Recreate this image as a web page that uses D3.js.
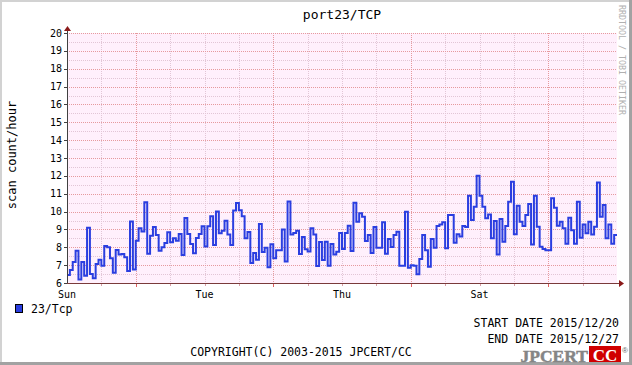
<!DOCTYPE html>
<html><head><meta charset="utf-8">
<script src="https://cdn.jsdelivr.net/npm/d3@7"></script>
<style>
body{margin:0;background:#fff}
svg{display:block}
text{font-family:"DejaVu Sans Mono",monospace}
</style>
</head><body>
<script>
const title = "port23/TCP";
const yLabel = "scan count/hour";
const seriesName = "23/Tcp";
const startDateText = "START DATE 2015/12/20";
const endDateText = "END DATE 2015/12/27";
const copyright = "COPYRIGHT(C) 2003-2015 JPCERT/CC";
const watermark = "RRDTOOL / TOBI OETIKER";
const dayLabels = ["Sun", "Tue", "Thu", "Sat"];
const dayLabelHours = [0, 48, 96, 144];
const majorGridHours = [24, 72, 120, 168];
const yTicks = d3.range(6, 21);
const totalHours = 192;
// hourly scan counts starting 2015/12/20 00:00
const values = [
  6.45, 6.73, 7.18, 7.8, 6.19, 7.18, 6.41, 9.1, 6.5, 6.26,
  7.07, 7.3, 6.97, 8.07, 8.0, 7.38, 6.58, 7.85, 7.59, 7.63,
  7.44, 6.67, 9.44, 6.75, 8.37, 9.07, 8.88, 10.52, 7.64, 8.65,
  9.14, 8.69, 7.81, 8.0, 8.24, 8.84, 8.28, 8.5, 8.37, 8.75,
  7.57, 9.64, 8.75, 8.19, 7.66, 8.52, 8.75, 9.18, 8.04, 9.18,
  9.74, 8.13, 10.0, 8.78, 8.92, 9.48, 8.71, 8.13, 10.06, 10.48,
  10.07, 9.74, 8.5, 8.86, 7.12, 7.68, 7.3, 9.31, 7.74, 7.98,
  6.88, 8.17, 7.38, 7.83, 7.83, 8.99, 7.2, 10.56, 8.71, 8.8,
  8.92, 7.63, 8.58, 7.89, 7.76, 9.07, 8.71, 6.95,
  8.3, 7.29, 8.31, 6.97, 8.18, 7.6, 7.75, 8.8, 7.9, 8.8, 9.2, 7.79,
  10.5, 9.43, 9.9, 9.71, 8.35, 8.69, 7.68, 9.13, 7.98, 7.98,
  9.4, 7.64, 8.46, 8.01, 8.69, 8.87, 6.97, 6.97, 9.99, 6.86,
  7.0, 6.97, 6.49, 7.34, 8.69, 7.83, 6.91, 8.46, 7.98, 9.19,
  9.28, 9.4, 7.94, 9.81, 9.81, 8.26, 8.73, 8.6, 9.19,
  9.13, 10.89, 9.53, 10.27, 12.0, 10.89, 10.27, 9.62, 9.84, 8.5,
  9.47, 7.6, 9.58, 8.31, 9.19, 10.55, 11.67, 8.73, 10.33, 9.43,
  9.19, 9.81, 10.42, 8.16, 10.89, 9.15, 8.03, 7.9,
  7.83, 7.83, 10.74, 10.22, 9.21, 9.43, 9.06, 8.2, 9.66, 8.95,
  8.2, 10.55, 8.54, 9.28, 8.78, 9.43, 8.72, 9.15, 11.63, 9.71,
  10.37, 8.5, 9.28, 8.2, 8.69
];

const W = 632, H = 365;
const M = {left: 67, right: 617, top: 33, bottom: 283};
const svg = d3.select("body").append("svg").attr("width", W).attr("height", H);

// frame
svg.append("rect").attr("width", W).attr("height", H).attr("fill", "#a2a2a2");
svg.append("rect").attr("width", W - 3).attr("height", H - 3).attr("fill", "#d2d2d2");
svg.append("rect").attr("x", 2).attr("y", 2).attr("width", W - 5).attr("height", H - 5).attr("fill", "#ffffff");

const x = d3.scaleLinear().domain([0, totalHours]).range([M.left, M.right]);
const y = d3.scaleLinear().domain([6, 20]).range([M.bottom, M.top]);

// plot background
svg.append("rect").attr("x", M.left).attr("y", M.top)
  .attr("width", M.right - M.left).attr("height", M.bottom - M.top)
  .attr("fill", "#fff0fc");

const grid = svg.append("g").attr("shape-rendering", "crispEdges").attr("stroke-width", 1);
grid.selectAll(".hmin").data(d3.range(6.5, 20, 1)).join("line")
  .attr("x1", M.left).attr("x2", M.right)
  .attr("y1", d => Math.round(y(d)) + 0.5).attr("y2", d => Math.round(y(d)) + 0.5)
  .attr("stroke", "#e2c6d6").attr("stroke-dasharray", "1,1");
grid.selectAll(".vmin").data(d3.range(12, totalHours, 12).filter(h => !majorGridHours.includes(h))).join("line")
  .attr("y1", M.top).attr("y2", M.bottom)
  .attr("x1", d => Math.round(x(d)) + 0.5).attr("x2", d => Math.round(x(d)) + 0.5)
  .attr("stroke", "#e2c6d6").attr("stroke-dasharray", "1,1");
grid.selectAll(".hmaj").data(yTicks.filter(d => d > 6)).join("line")
  .attr("x1", M.left).attr("x2", M.right)
  .attr("y1", d => Math.round(y(d)) + 0.5).attr("y2", d => Math.round(y(d)) + 0.5)
  .attr("stroke", "#e69a9e").attr("stroke-dasharray", "1,1");
grid.selectAll(".vmaj").data(majorGridHours).join("line")
  .attr("y1", M.top).attr("y2", M.bottom)
  .attr("x1", d => Math.round(x(d)) + 0.5).attr("x2", d => Math.round(x(d)) + 0.5)
  .attr("stroke", "#e69a9e").attr("stroke-dasharray", "1,1");

// data line
const pts = values.map((v, i) => [i, v]);
pts.push([values.length, values[values.length - 1]]);
const line = d3.line().x(d => x(d[0])).y(d => y(d[1])).curve(d3.curveStepAfter);
svg.append("path").datum(pts).attr("d", line)
  .attr("fill", "none").attr("stroke", "#2a3ee0").attr("stroke-width", 2)
  .attr("stroke-linejoin", "miter");

// axes
const ax = svg.append("g").attr("shape-rendering", "crispEdges");
ax.append("line").attr("x1", M.left + 0.5).attr("x2", M.left + 0.5)
  .attr("y1", M.bottom + 1).attr("y2", M.top - 4).attr("stroke", "#404040");
ax.append("line").attr("x1", M.left).attr("x2", M.right + 4)
  .attr("y1", M.bottom + 0.5).attr("y2", M.bottom + 0.5).attr("stroke", "#7a3a3a");
svg.append("path").attr("d", `M${M.left - 3},${M.top - 2}L${M.left + 0.5},${M.top - 7}L${M.left + 4},${M.top - 2}Z`)
  .attr("fill", "#8b1a1a");
svg.append("path").attr("d", `M${M.right + 2},${M.bottom - 3}L${M.right + 7},${M.bottom + 0.5}L${M.right + 2},${M.bottom + 4}Z`)
  .attr("fill", "#8b1a1a");
ax.selectAll(".yt").data(yTicks).join("line")
  .attr("x1", M.left - 3).attr("x2", M.left)
  .attr("y1", d => Math.round(y(d)) + 0.5).attr("y2", d => Math.round(y(d)) + 0.5)
  .attr("stroke", "#404040");
ax.selectAll(".xtmin").data(d3.range(12, totalHours, 12).filter(h => !majorGridHours.includes(h))).join("line")
  .attr("x1", d => Math.round(x(d)) + 0.5).attr("x2", d => Math.round(x(d)) + 0.5)
  .attr("y1", M.bottom + 1).attr("y2", M.bottom + 3).attr("stroke", "#d8a0a8");
ax.selectAll(".xtmaj").data(majorGridHours).join("line")
  .attr("x1", d => Math.round(x(d)) + 0.5).attr("x2", d => Math.round(x(d)) + 0.5)
  .attr("y1", M.bottom + 1).attr("y2", M.bottom + 4).attr("stroke", "#e06060");

// tick labels
svg.selectAll(".ylab").data(yTicks).join("text")
  .attr("x", M.left - 5).attr("y", d => y(d)).attr("dy", "0.35em")
  .attr("text-anchor", "end").attr("font-size", 10).attr("fill", "#000")
  .text(d => d);
svg.selectAll(".xlab").data(dayLabels).join("text")
  .attr("x", (d, i) => x(dayLabelHours[i])).attr("y", 297.5)
  .attr("text-anchor", "middle").attr("font-size", 10).attr("fill", "#000")
  .text(d => d);

// title & axis label
svg.append("text").attr("x", 342).attr("y", 18.5).attr("text-anchor", "middle")
  .attr("font-size", 13).text(title);
svg.append("text").attr("transform", "translate(15.5,155) rotate(-90)")
  .attr("text-anchor", "middle").attr("font-size", 12).text(yLabel);

// watermark
svg.append("text").attr("transform", "translate(619,60) rotate(90)")
  .attr("text-anchor", "middle").attr("font-size", 8.3).attr("fill", "#b0b0b0")
  .text(watermark);

// legend
svg.append("rect").attr("x", 15.5).attr("y", 304.5).attr("width", 7).attr("height", 8)
  .attr("fill", "#2a3ee0").attr("stroke", "#000").attr("stroke-width", 1);
svg.append("text").attr("x", 31).attr("y", 313).attr("font-size", 11.5).text(seriesName);

// dates & copyright
svg.append("text").attr("x", 619).attr("y", 327).attr("text-anchor", "end").attr("font-size", 11.5).text(startDateText);
svg.append("text").attr("x", 619).attr("y", 343).attr("text-anchor", "end").attr("font-size", 11.5).text(endDateText);
svg.append("text").attr("x", 301).attr("y", 356).attr("text-anchor", "middle").attr("font-size", 11.5).text(copyright);

// logo
const logo = svg.append("g");
logo.append("text").attr("x", 588).attr("y", 361.5).attr("text-anchor", "end")
  .style("font-family", "'Liberation Serif', serif").style("font-weight", "900").style("font-size", "17.5px")
  .attr("fill", "#858585").attr("stroke", "#858585").attr("stroke-width", 0.5).text("JPCERT");
logo.append("rect").attr("x", 589).attr("y", 346).attr("width", 32).attr("height", 16).attr("fill", "#d00000");
logo.append("text").attr("x", 605).attr("y", 361).attr("text-anchor", "middle")
  .style("font-family", "'Liberation Serif', serif").style("font-weight", "900").style("font-size", "17px")
  .attr("fill", "#fff").text("CC");
logo.append("text").attr("x", 622).attr("y", 353)
  .style("font-family", "'Liberation Sans', sans-serif").attr("font-size", 8)
  .attr("fill", "#666").text("®");
</script>
</body></html>
